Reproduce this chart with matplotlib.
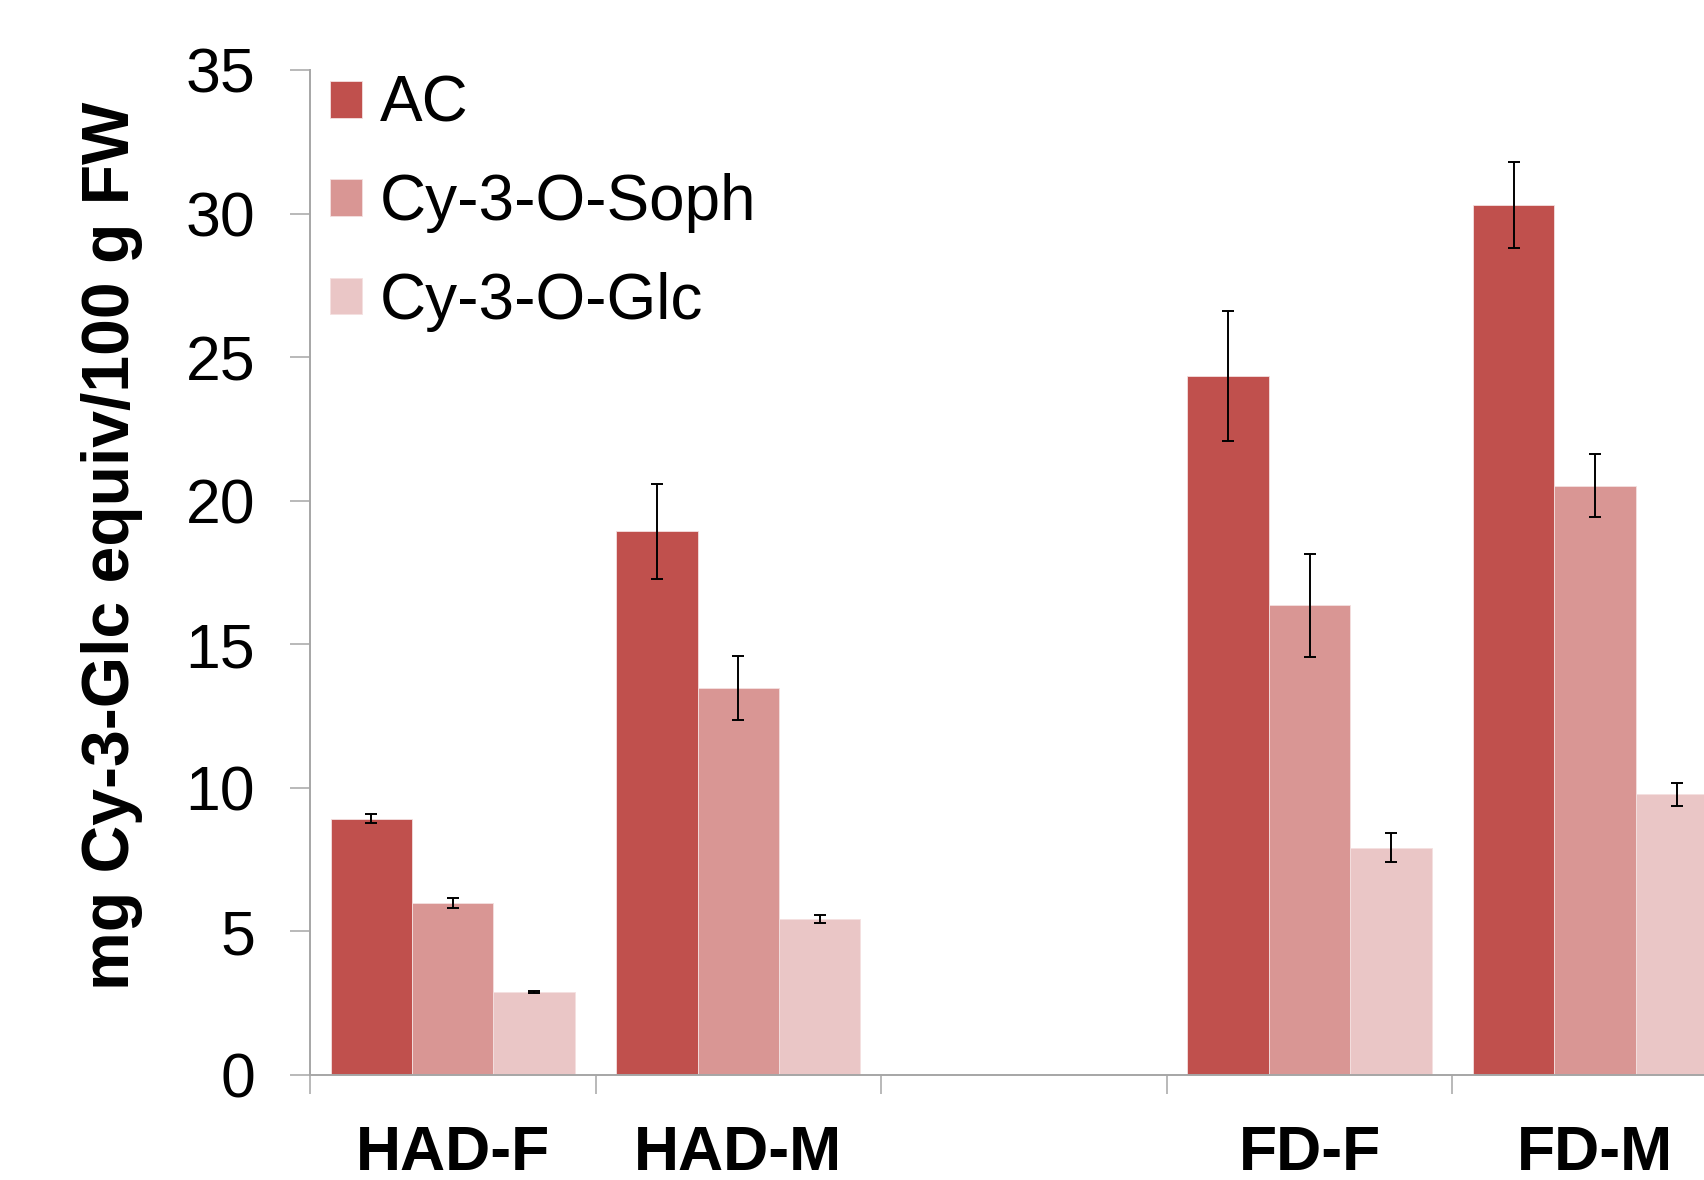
import matplotlib
matplotlib.use("Agg")
import matplotlib.pyplot as plt
import numpy as np

plt.rcParams['font.family'] = ['Liberation Sans', 'DejaVu Sans']

# groups on the x axis (third slot is an empty gap in the original chart)
categories = ['HAD-F', 'HAD-M', '', 'FD-F', 'FD-M']
series_names = ['AC', 'Cy-3-O-Soph', 'Cy-3-O-Glc']

ac_vals = [8.92, 18.93, np.nan, 24.33, 30.3]
ac_err = [0.16, 1.65, np.nan, 2.26, 1.49]
soph_vals = [5.99, 13.47, np.nan, 16.36, 20.52]
soph_err = [0.18, 1.11, np.nan, 1.79, 1.1]
glc_vals = [2.89, 5.43, np.nan, 7.92, 9.77]
glc_err = [0.03, 0.14, np.nan, 0.5, 0.4]

colors = ['#C0504D', '#D99694', '#EAC6C6']
grey = '#A6A6A6'

fig = plt.figure(figsize=(17.04, 11.80), dpi=100)
# axes run past the right edge of the figure, like the cropped original
ax = fig.add_axes([0.1819, 0.089, 0.838, 0.8517])

x = np.arange(len(categories))
w = 0.285
values = [ac_vals, soph_vals, glc_vals]
errors = [ac_err, soph_err, glc_err]
for j in range(3):
    ax.bar(x + (j - 1) * w, values[j], w, color=colors[j], edgecolor='#F4E0E0',
           linewidth=0.6, label=series_names[j], zorder=2)
    ax.errorbar(x + (j - 1) * w, values[j], yerr=errors[j], fmt='none',
                ecolor='black', elinewidth=1.4, capsize=4.3, capthick=1.4, zorder=3)

ax.set_xlim(-0.5, len(categories) - 0.5)
ax.set_ylim(0, 35)
ax.set_yticks(np.arange(0, 36, 5))
ax.tick_params(axis='y', labelsize=45, length=14.4, width=1.1, color=grey, pad=25)

# ticks at group boundaries, labels at group centres
ax.set_xticks(np.arange(-0.5, len(categories), 1.0))
ax.set_xticklabels([])
ax.set_xticks(x, minor=True)
ax.set_xticklabels(categories, minor=True, fontsize=45, fontweight='bold')
ax.tick_params(axis='x', which='major', length=14, width=1.1, color=grey)
ax.tick_params(axis='x', which='minor', length=0, pad=35)

for s in ['top', 'right']:
    ax.spines[s].set_visible(False)
for s in ['left', 'bottom']:
    ax.spines[s].set_color(grey)
    ax.spines[s].set_linewidth(1.4)

fig.text(0.0657, 0.537, 'mg Cy-3-Glc equiv/100 g FW', rotation=90, ha='center',
         va='center', fontsize=47.5, fontweight='bold')

ax.legend(loc='upper left', bbox_to_anchor=(0.0143, 0.995), frameon=False, fontsize=46,
          handlelength=0.5, handleheight=0.5, handletextpad=0.27,
          labelspacing=0.6, borderpad=0, borderaxespad=0)

fig.savefig('out.png', dpi=100)
